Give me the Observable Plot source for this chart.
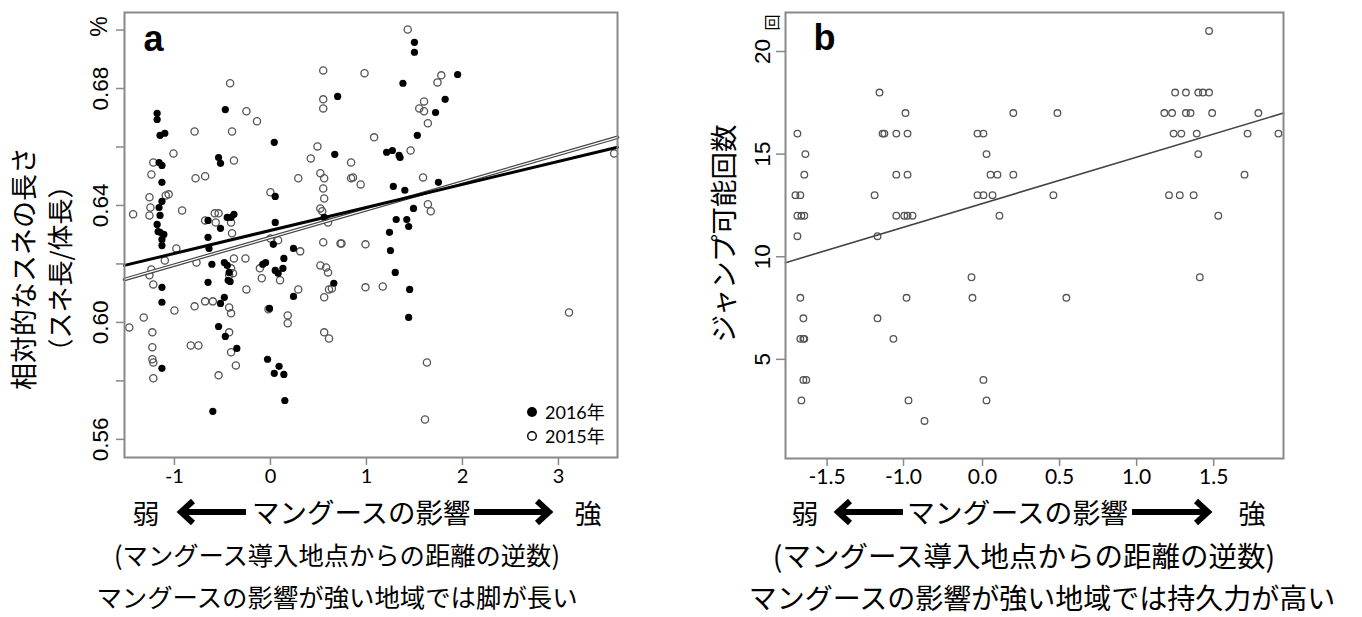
<!DOCTYPE html>
<html><head><meta charset="utf-8">
<script src="https://cdn.jsdelivr.net/npm/d3@7"></script>
<script src="https://cdn.jsdelivr.net/npm/@observablehq/plot@0.6"></script>
<style>
html,body{margin:0;padding:0;background:#fff;}
body{width:1362px;height:617px;overflow:hidden;position:relative;font-family:"Noto Sans CJK JP",sans-serif;color:#000;}
#a{position:absolute;left:0;top:0;}
#b{position:absolute;left:680px;top:0;}
.t{position:absolute;white-space:nowrap;line-height:1;transform:translate(-50%,-50%);}
.l{transform:translate(0,-50%);}
svg.arr{position:absolute;overflow:visible;}
</style></head>
<body>
<div id="a"></div>
<div id="b"></div>
<script>
// ---------- Panel a data ----------
const aXTicks = [-1, 0, 1, 2, 3];
const aXTickLabels = ["-1", "0", "1", "2", "3"];
const aYMinorTicks = [0.56, 0.58, 0.60, 0.62, 0.64, 0.66, 0.68, 0.70];
const aYLabelTicks = [0.56, 0.60, 0.64, 0.68];
const aYLabels = ["0.56", "0.60", "0.64", "0.68"];

const a2016X = [-0.47,-1.18,-1.18,-1.15,-1.10,0.04,0.70,0.67,-1.16,-1.13,-0.54,-0.52,-1.13,0.05,-1.13,-1.16,-1.15,0.56,-1.18,-1.17,-1.15,-1.11,-1.13,-1.13,-0.65,-0.52,-0.45,-0.41,-0.38,-0.65,-0.64,0.05,0.03,0.24,-1.13,-1.13,-0.61,-0.65,-0.48,-0.45,-0.43,-0.44,-0.42,-0.48,-0.52,-0.54,-0.47,-0.35,-1.13,-0.05,-0.08,0.05,0.08,0.13,0.14,0.24,-0.01,-0.03,0.09,0.14,0.04,0.66,-0.60,0.15,1.50,1.50,1.95,1.38,1.82,1.72,1.53,1.21,1.27,1.34,1.35,1.75,1.28,1.40,1.49,1.31,1.42,1.44,1.24,1.25,1.30,1.45,1.44];
const a2016Y = [0.6728,0.6715,0.6694,0.6640,0.6647,0.6616,0.6773,0.6575,0.6547,0.6537,0.6564,0.6544,0.6479,0.6431,0.6414,0.6393,0.6366,0.6359,0.6335,0.6311,0.6308,0.6301,0.6284,0.6263,0.6349,0.6322,0.6359,0.6359,0.6370,0.6291,0.6253,0.6342,0.6267,0.6253,0.6120,0.6069,0.6199,0.6137,0.6205,0.6195,0.6171,0.6144,0.6140,0.6086,0.6065,0.5986,0.5952,0.5911,0.5843,0.6205,0.6199,0.6178,0.6168,0.6185,0.6219,0.6089,0.6048,0.5874,0.5850,0.5822,0.5826,0.6134,0.5696,0.5733,0.6958,0.6924,0.6848,0.6818,0.6763,0.6718,0.6640,0.6582,0.6588,0.6571,0.6564,0.6479,0.6465,0.6452,0.6390,0.6352,0.6352,0.6328,0.6308,0.6246,0.6171,0.6113,0.6017];

const a2015X = [-0.42,-0.25,-0.14,-0.79,-0.40,-1.01,0.55,0.55,0.55,0.49,0.42,-1.22,-0.38,-1.24,-0.78,-0.68,0.29,0.52,0.56,0.55,0.56,0.00,-1.26,-1.06,-1.09,-1.25,-1.43,-1.26,-0.92,0.52,0.54,0.60,-0.98,-0.68,-0.58,-0.54,-0.57,-0.41,-0.40,0.00,0.08,0.31,0.55,0.73,0.84,0.84,-1.10,-1.24,-1.26,-1.22,-1.00,-0.77,-0.38,-0.26,-0.41,-0.39,-0.43,-0.25,-0.68,-0.60,-0.79,-0.43,-0.41,-0.43,-0.41,-0.36,-0.54,-0.83,-0.75,-1.22,-1.23,-1.22,-1.23,-1.23,-1.32,-1.47,-0.11,-0.09,0.10,0.29,-0.02,0.18,0.18,0.52,0.58,0.60,0.61,0.56,0.56,0.61,1.43,0.98,1.78,1.74,1.60,1.55,1.60,1.64,1.08,1.46,0.86,0.94,1.59,1.64,1.67,3.58,0.74,0.99,0.64,0.99,1.17,3.11,1.63,1.61];
const a2015Y = [0.6818,0.6722,0.6688,0.6653,0.6653,0.6578,0.6862,0.6763,0.6732,0.6602,0.6561,0.6547,0.6554,0.6506,0.6493,0.6500,0.6493,0.6510,0.6493,0.6458,0.6424,0.6445,0.6428,0.6438,0.6434,0.6393,0.6370,0.6366,0.6383,0.6390,0.6380,0.6342,0.6253,0.6349,0.6373,0.6373,0.6342,0.6342,0.6305,0.6287,0.6281,0.6243,0.6274,0.6270,0.6547,0.6493,0.6212,0.6181,0.6161,0.6130,0.6041,0.6205,0.6219,0.6219,0.6185,0.6168,0.6161,0.6113,0.6072,0.6072,0.6055,0.6051,0.6031,0.5966,0.5898,0.5853,0.5819,0.5921,0.5921,0.5809,0.5874,0.5863,0.5915,0.5966,0.6017,0.5983,0.6185,0.6151,0.6144,0.6113,0.6045,0.6024,0.5997,0.6195,0.6188,0.6171,0.6113,0.6086,0.5966,0.5945,0.7002,0.6852,0.6845,0.6821,0.6756,0.6732,0.6722,0.6681,0.6633,0.6588,0.6496,0.6472,0.6496,0.6404,0.6380,0.6578,0.6270,0.6267,0.6116,0.6120,0.6123,0.6034,0.5863,0.5668];

const aFit2016X = [-1.52, 3.615];
const aFit2016Y = [0.6195, 0.6599];
const aFit2015X = [-1.52, 3.615];
const aFit2015Y = [0.6147, 0.6633];

// ---------- Panel b data ----------
const bXTicks = [-1.5, -1.0, 0.0, 0.5, 1.0, 1.5];
const bXTickLabels = ["-1.5", "-1.0", "0.0", "0.5", "1.0", "1.5"];
const bXBreaks = [-1.772, -1.0, 0.0, 1.953];
const bYTicks = [5, 10, 15, 20];
const bYLabels = ["5", "10", "15", "20"];

const bX = [-1.694,-1.642,-1.649,-1.707,-1.675,-1.694,-1.668,-1.649,-1.694,-1.675,-1.655,-1.675,-1.655,-1.649,-1.655,-1.636,-1.668,
  -1.157,-0.975,-1.137,-1.125,-1.047,-0.949,-1.047,-0.949,-1.189,-1.047,-0.99,-0.949,-0.886,-1.170,-1.170,-1.066,-0.962,-0.937,-0.734,
  -0.139,-0.127,-0.063,0.006,0.026,0.052,0.097,0.20,-0.063,0.006,0.065,0.110,0.20,0.006,0.026,
  0.486,0.46,0.544,
  1.47,1.25,1.32,1.40,1.43,1.47,1.18,1.23,1.32,1.35,1.49,1.79,1.24,1.29,1.39,1.72,1.92,1.40,1.70,1.21,1.28,1.37,1.53,1.41];
const bY = [16,15,14,13,13,12,12,12,11,8,7,6,6,6,4,4,3,
  18,17,16,16,16,16,14,14,13,12,12,12,12,11,7,6,8,3,2,
  9,8,16,16,15,14,14,14,13,13,13,12,17,4,3,
  17,13,8,
  21,18,18,18,18,18,17,17,17,17,17,17,16,16,16,16,16,15,14,13,13,13,12,9];
const bFitX = [-1.772, 1.953];
const bFitY = [9.71, 17.0];

// build tables
const zip = (xs, ys) => xs.map((x, i) => ({x, y: ys[i]}));
const a2016 = zip(a2016X, a2016Y);
const a2015 = zip(a2015X, a2015Y);
const aLine2016 = zip(aFit2016X, aFit2016Y);
const aLine2015 = zip(aFit2015X, aFit2015Y);
const bPts = zip(bX, bY);
const bLine = zip(bFitX, bFitY);

const SANS = "Liberation Sans, Arial, sans-serif";
const CJK = "Noto Sans CJK JP, sans-serif";

const plotA = Plot.plot({
  width: 680, height: 490,
  marginLeft: 124, marginRight: 63, marginTop: 12, marginBottom: 33,
  style: {fontFamily: "Lato, sans-serif", fontSize: "20px", background: "transparent", overflow: "visible", color: "black"},
  x: {domain: [-1.52, 3.615], label: null},
  y: {domain: [0.5538, 0.7060], label: null},
  marks: [
    Plot.axisY({ticks: aYMinorTicks, tickSize: 8, stroke: "#888", strokeWidth: 1.5, tickFormat: () => "", label: null}),
    Plot.text(aYLabelTicks, {y: d => d, text: (d, i) => aYLabels[i], frameAnchor: "left", dx: -24, rotate: -90,
      textAnchor: "middle", lineAnchor: "middle", fontSize: 22.5, fontFamily: SANS, fill: "black"}),
    Plot.axisX({ticks: aXTicks, tickSize: 8, tickPadding: 3, stroke: "#888", strokeWidth: 1.5, fill: "black",
      fontSize: 20, fontFamily: "Lato, sans-serif", tickFormat: d => aXTickLabels[aXTicks.indexOf(d)], label: null}),
    Plot.dot(a2015, {x: "x", y: "y", r: 3.6, stroke: "#555", strokeWidth: 1.3, fill: "none"}),
    Plot.dot(a2016, {x: "x", y: "y", r: 3.6, fill: "black", stroke: "none"}),
    Plot.line(aLine2015, {x: "x", y: "y", stroke: "#444", strokeWidth: 3.6}),
    Plot.line(aLine2015, {x: "x", y: "y", stroke: "#fff", strokeWidth: 1.2}),
    Plot.line(aLine2016, {x: "x", y: "y", stroke: "black", strokeWidth: 3}),
    Plot.frame({stroke: "#888", strokeWidth: 2}),
    Plot.text(["a"], {text: d => d, frameAnchor: "top-left", dx: 19, dy: 26.5, textAnchor: "start", lineAnchor: "middle",
      fontSize: 36, fontWeight: "bold", fontFamily: SANS, fill: "black"}),
    Plot.text(["%"], {text: d => d, frameAnchor: "top-left", dx: -25, dy: 14, rotate: -90, textAnchor: "middle", lineAnchor: "middle",
      fontSize: 23, fontFamily: SANS, fill: "black"}),
    Plot.text(["相対的なスネの長さ"], {text: d => d, frameAnchor: "left", dx: 24.5 - 124, dy: 33.5, rotate: -90,
      textAnchor: "middle", lineAnchor: "middle", fontSize: 27, fontFamily: CJK, fill: "black"}),
    Plot.text(["（スネ長/体長）"], {text: d => d, frameAnchor: "left", dx: 61 - 124, dy: 33.5, rotate: -90,
      textAnchor: "middle", lineAnchor: "middle", fontSize: 26, fontFamily: CJK, fill: "black"})
  ]
});
document.getElementById("a").appendChild(plotA);

const plotB = Plot.plot({
  width: 682, height: 490,
  marginLeft: 105, marginRight: 79, marginTop: 12, marginBottom: 32,
  style: {fontFamily: "Lato, sans-serif", fontSize: "21px", background: "transparent", overflow: "visible", color: "black"},
  x: {type: "linear", domain: bXBreaks, range: [105, 223, 302, 603], label: null},
  y: {domain: [0.17, 21.9], label: null},
  marks: [
    Plot.axisY({ticks: bYTicks, tickSize: 9, stroke: "#888", strokeWidth: 1.5, tickFormat: () => "", label: null}),
    Plot.text(bYTicks, {y: d => d, text: (d, i) => bYLabels[i], frameAnchor: "left", dx: -23, rotate: -90,
      textAnchor: "middle", lineAnchor: "middle", fontSize: 22.5, fontFamily: SANS, fill: "black"}),
    Plot.axisX({ticks: bXTicks, tickSize: 8, tickPadding: 3, stroke: "#888", strokeWidth: 1.5, fill: "black",
      fontSize: 21, fontFamily: "Lato, sans-serif", tickFormat: d => bXTickLabels[bXTicks.indexOf(d)], label: null}),
    Plot.dot(bPts, {x: "x", y: "y", r: 3.3, stroke: "#555", strokeWidth: 1.3, fill: "none"}),
    Plot.line(bLine, {x: "x", y: "y", stroke: "#444", strokeWidth: 1.6}),
    Plot.frame({stroke: "#888", strokeWidth: 2}),
    Plot.text(["b"], {text: d => d, frameAnchor: "top-left", dx: 28, dy: 25.5, textAnchor: "start", lineAnchor: "middle",
      fontSize: 36, fontWeight: "bold", fontFamily: SANS, fill: "black"}),
    Plot.text(["回"], {text: d => d, frameAnchor: "top-left", dx: -13, dy: 10, rotate: -90, textAnchor: "middle", lineAnchor: "middle",
      fontSize: 16, fontFamily: CJK, fill: "black"}),
    Plot.text(["ジャンプ可能回数"], {text: d => d, frameAnchor: "left", dx: -60, dy: -2, rotate: -90,
      textAnchor: "middle", lineAnchor: "middle", fontSize: 27.5, fontFamily: CJK, fill: "black"})
  ]
});
document.getElementById("b").appendChild(plotB);

// ---------- captions / legend (HTML) ----------
const NS = "http://www.w3.org/2000/svg";
function arrow(left, cy, w, dir) {
  const h = 28;
  const s = document.createElementNS(NS, "svg");
  s.setAttribute("class", "arr");
  s.setAttribute("width", w); s.setAttribute("height", h);
  s.style.left = left + "px"; s.style.top = (cy - h / 2) + "px";
  const p = document.createElementNS(NS, "path");
  const d = dir < 0
    ? `M${w},14 L5,14 M17,3 L5,14 L17,25`
    : `M0,14 L${w - 5},14 M${w - 17},3 L${w - 5},14 L${w - 17},25`;
  p.setAttribute("d", d);
  p.setAttribute("fill", "none"); p.setAttribute("stroke", "#000");
  p.setAttribute("stroke-width", "6"); p.setAttribute("stroke-linejoin", "miter");
  s.appendChild(p);
  document.body.appendChild(s);
}
function txt(str, x, y, size, cls, font) {
  const el = document.createElement("div");
  el.className = "t" + (cls ? " " + cls : "");
  el.textContent = str;
  el.style.left = x + "px"; el.style.top = y + "px"; el.style.fontSize = size + "px";
  if (font) el.style.fontFamily = font;
  document.body.appendChild(el);
}
// panel a captions
txt("弱", 146, 512, 27);
arrow(176, 512, 70, -1);
txt("マングースの影響", 252, 512, 27.5, "l");
arrow(474, 512, 80, 1);
txt("強", 588, 512, 27);
txt("(マングース導入地点からの距離の逆数)", 337, 555, 25.3);
txt("マングースの影響が強い地域では脚が長い", 337, 597, 25.4);
// panel b captions
txt("弱", 805, 512, 27);
arrow(833, 512, 70, -1);
txt("マングースの影響", 907, 512, 27.8, "l");
arrow(1132, 512, 81, 1);
txt("強", 1252, 512, 27);
txt("(マングース導入地点からの距離の逆数)", 1024, 555, 28.5);
txt("マングースの影響が強い地域では持久力が高い", 1042, 597, 28);
// legend of panel a
(function () {
  const s = document.createElementNS(NS, "svg");
  s.setAttribute("width", 14); s.setAttribute("height", 40);
  s.style.position = "absolute"; s.style.left = "525px"; s.style.top = "405px";
  s.innerHTML = '<circle cx="7" cy="7" r="5" fill="#000"/><circle cx="7" cy="31" r="4.3" fill="none" stroke="#000" stroke-width="1.4"/>';
  document.body.appendChild(s);
})();
txt("2016年", 545, 412, 18, "l", "Lato, 'Noto Sans CJK JP', sans-serif");
txt("2015年", 545, 436, 18, "l", "Lato, 'Noto Sans CJK JP', sans-serif");
</script>
</body></html>
